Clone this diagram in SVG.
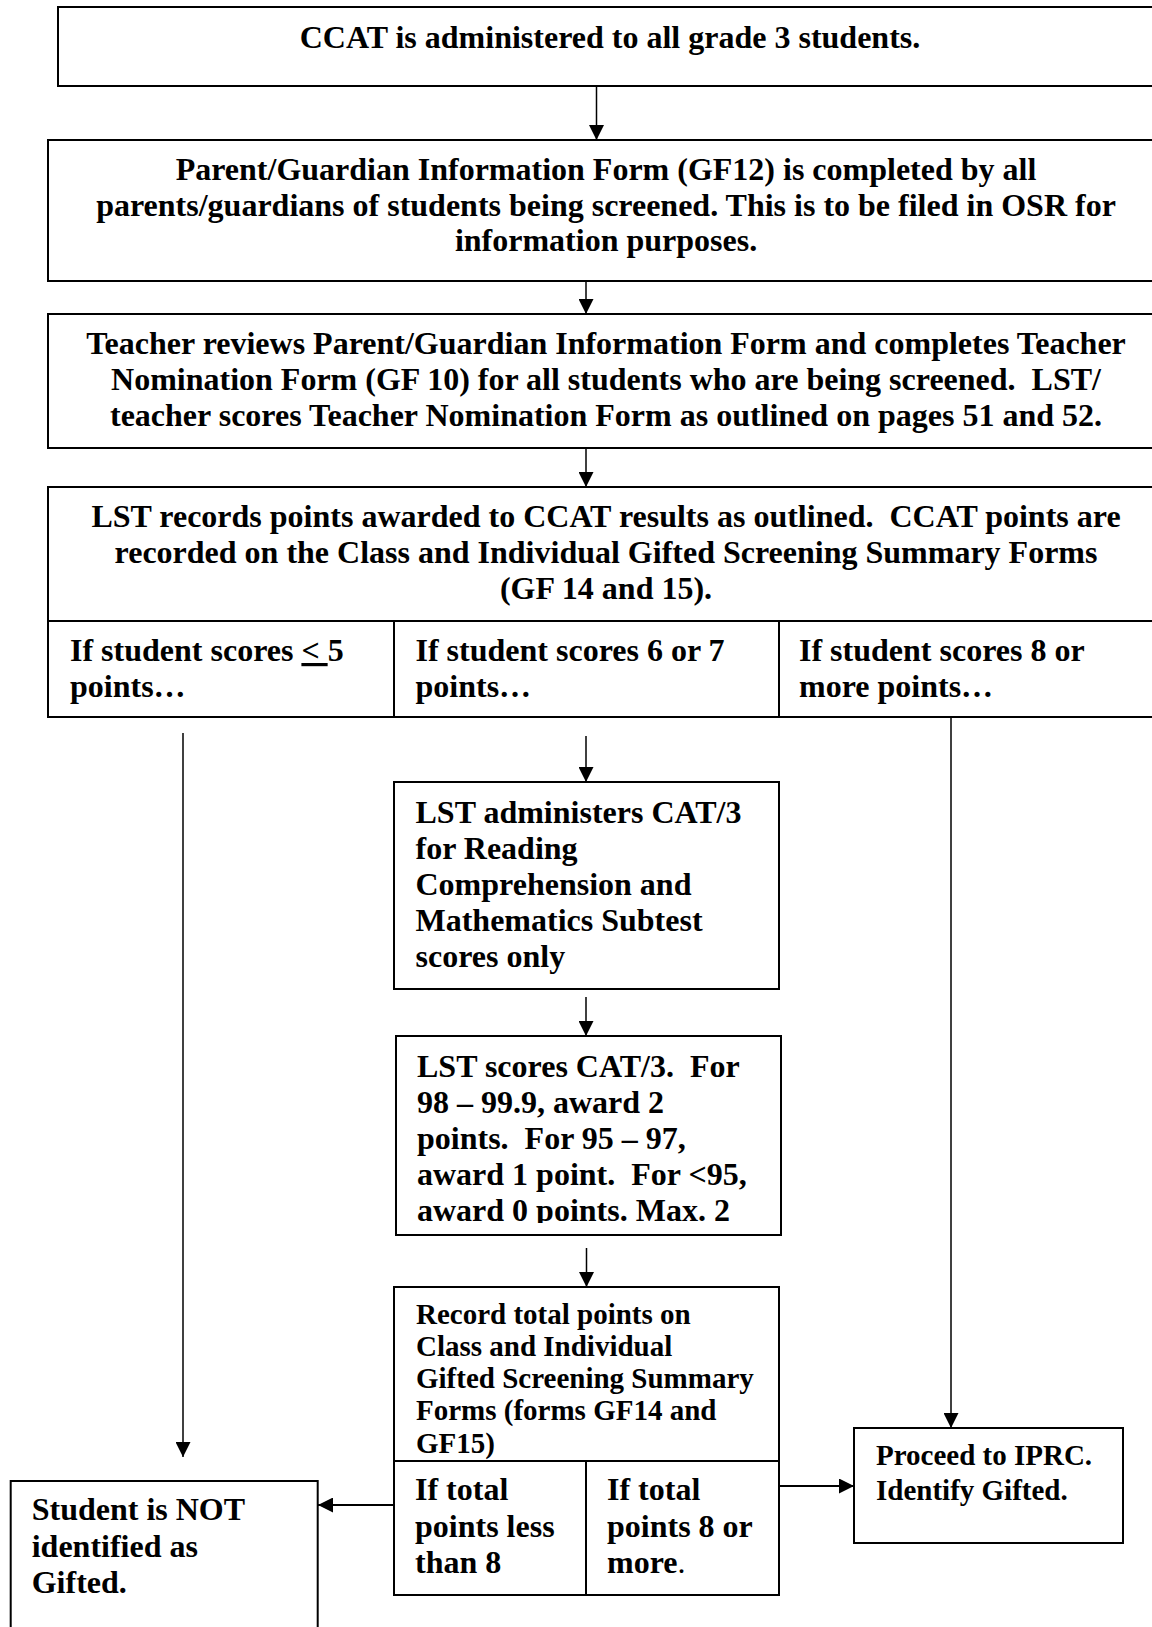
<svg xmlns="http://www.w3.org/2000/svg" width="1152" height="1627" viewBox="0 0 1152 1627">
<style>
  .box { fill: #fff; stroke: #000; stroke-width: 2; }
  .div { stroke: #000; stroke-width: 2; fill: none; }
  .t { font-family: "Liberation Serif", "Times New Roman", serif; font-weight: bold; font-size: 32px; fill: #000; white-space: pre; }
  .c { text-anchor: middle; }
  .s29 { font-size: 29px; }
  .arr { stroke: #000; stroke-width: 1.5; fill: none; marker-end: url(#ah); }
  .arrh { stroke: #000; stroke-width: 2; fill: none; marker-end: url(#ah); }
</style>
<defs>
  <marker id="ah" markerUnits="userSpaceOnUse" markerWidth="15" markerHeight="15" refX="15" refY="7.5" orient="auto">
    <path d="M0,0 L15,7.5 L0,15 z" fill="#000"/>
  </marker>
  <clipPath id="clip6">
    <rect x="396" y="1036" width="385" height="187"/>
  </clipPath>
</defs>
<rect width="1152" height="1627" fill="#fff"/>

<g id="connectors">
  <line class="arr" x1="596.5" y1="86" x2="596.5" y2="140"/>
  <line class="arr" x1="586" y1="281" x2="586" y2="314"/>
  <line class="arr" x1="586" y1="448" x2="586" y2="487"/>
  <line class="arr" x1="183" y1="733" x2="183" y2="1457"/>
  <line class="arr" x1="586" y1="736" x2="586" y2="782"/>
  <line class="arr" x1="951" y1="717" x2="951" y2="1428"/>
  <line class="arr" x1="586" y1="997" x2="586" y2="1036"/>
  <line class="arr" x1="586.5" y1="1248" x2="586.5" y2="1287"/>
  <line class="arrh" x1="394" y1="1505" x2="318" y2="1505"/>
  <line class="arrh" x1="779" y1="1486" x2="854" y2="1486"/>
</g>

<g id="node-ccat">
  <rect class="box" x="58" y="7" width="1112" height="79"/>
  <text class="t c" x="610" y="48">CCAT is administered to all grade 3 students.</text>
</g>

<g id="node-parent-form">
  <rect class="box" x="48" y="140" width="1122" height="141"/>
  <text class="t c" x="606" y="180">Parent/Guardian Information Form (GF12) is completed by all</text>
  <text class="t c" x="606" y="216">parents/guardians of students being screened. This is to be filed in OSR for</text>
  <text class="t c" x="606" y="251">information purposes.</text>
</g>

<g id="node-teacher">
  <rect class="box" x="48" y="314" width="1122" height="134"/>
  <text class="t c" x="606" y="354">Teacher reviews Parent/Guardian Information Form and completes Teacher</text>
  <text class="t c" x="606" y="390">Nomination Form (GF 10) for all students who are being screened.  LST/</text>
  <text class="t c" x="606" y="426">teacher scores Teacher Nomination Form as outlined on pages 51 and 52.</text>
</g>

<g id="node-lst-records">
  <rect class="box" x="48" y="487" width="1122" height="230"/>
  <line class="div" x1="48" y1="621" x2="1170" y2="621"/>
  <line class="div" x1="394" y1="621" x2="394" y2="717"/>
  <line class="div" x1="779" y1="621" x2="779" y2="717"/>
  <text class="t c" x="606" y="527">LST records points awarded to CCAT results as outlined.  CCAT points are</text>
  <text class="t c" x="606" y="563">recorded on the Class and Individual Gifted Screening Summary Forms</text>
  <text class="t c" x="606" y="599">(GF 14 and 15).</text>
  <text class="t" x="70" y="661">If student scores <tspan text-decoration="underline">&lt; </tspan>5</text>
  <text class="t" x="70" y="697">points…</text>
  <text class="t" x="415.5" y="661">If student scores 6 or 7</text>
  <text class="t" x="415.5" y="697">points…</text>
  <text class="t" x="799" y="661">If student scores 8 or</text>
  <text class="t" x="799" y="697">more points…</text>
</g>

<g id="node-cat3">
  <rect class="box" x="394" y="782" width="385" height="207"/>
  <text class="t" x="415.5" y="823">LST administers CAT/3</text>
  <text class="t" x="415.5" y="859">for Reading</text>
  <text class="t" x="415.5" y="895">Comprehension and</text>
  <text class="t" x="415.5" y="931">Mathematics Subtest</text>
  <text class="t" x="415.5" y="967">scores only</text>
</g>

<g id="node-scores">
  <rect class="box" x="396" y="1036" width="385" height="199"/>
  <g clip-path="url(#clip6)">
    <text class="t" x="417" y="1077">LST scores CAT/3.  For</text>
    <text class="t" x="417" y="1113">98 – 99.9, award 2</text>
    <text class="t" x="417" y="1149">points.  For 95 – 97,</text>
    <text class="t" x="417" y="1185">award 1 point.  For &lt;95,</text>
    <text class="t" x="417" y="1221">award 0 points. Max. 2</text>
  </g>
</g>

<g id="node-record-total">
  <rect class="box" x="394" y="1287" width="385" height="308"/>
  <line class="div" x1="394" y1="1461" x2="779" y2="1461"/>
  <line class="div" x1="586" y1="1461" x2="586" y2="1595"/>
  <text class="t s29" x="416" y="1324">Record total points on</text>
  <text class="t s29" x="416" y="1356">Class and Individual</text>
  <text class="t s29" x="416" y="1388">Gifted Screening Summary</text>
  <text class="t s29" x="416" y="1420">Forms (forms GF14 and</text>
  <text class="t s29" x="416" y="1453">GF15)</text>
  <text class="t" x="415" y="1500">If total</text>
  <text class="t" x="415" y="1537">points less</text>
  <text class="t" x="415" y="1573">than 8</text>
  <text class="t" x="607" y="1500">If total</text>
  <text class="t" x="607" y="1537">points 8 or</text>
  <text class="t" x="607" y="1573">more<tspan font-weight="normal">.</tspan></text>
</g>

<g id="node-not-gifted">
  <rect class="box" x="10.7" y="1481" width="307" height="170"/>
  <text class="t" x="31.7" y="1520">Student is NOT</text>
  <text class="t" x="31.7" y="1557">identified as</text>
  <text class="t" x="31.7" y="1593">Gifted.</text>
</g>

<g id="node-iprc">
  <rect class="box" x="854" y="1428" width="269" height="115"/>
  <text class="t s29" x="876" y="1465">Proceed to IPRC.</text>
  <text class="t s29" x="876" y="1500">Identify Gifted.</text>
</g>
</svg>
